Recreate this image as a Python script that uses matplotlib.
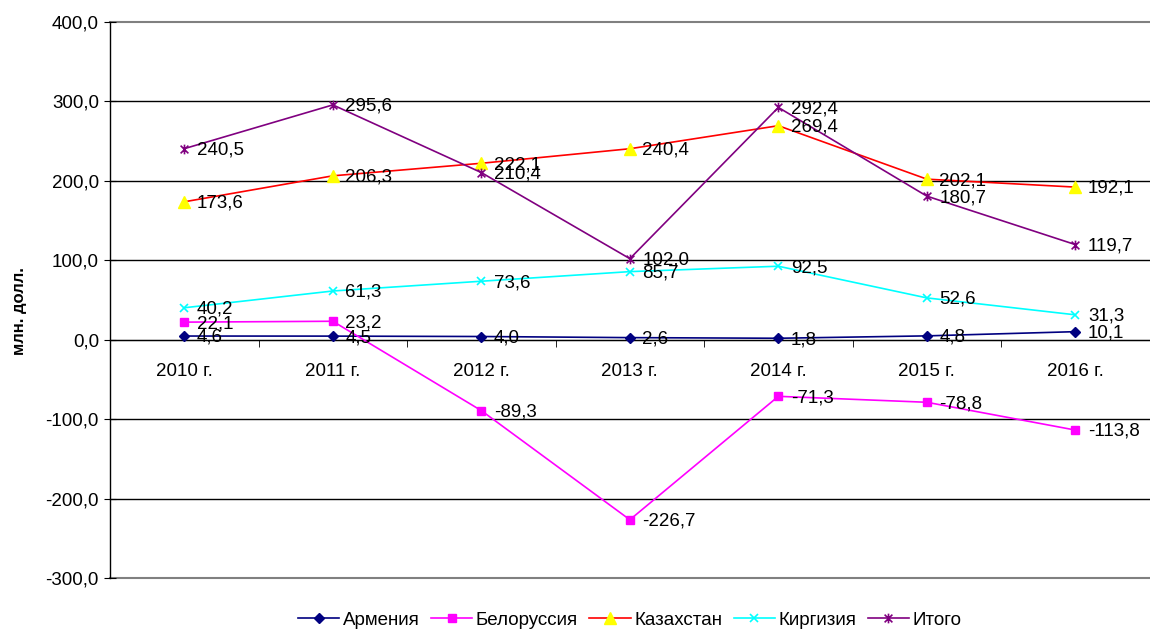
import matplotlib.pyplot as plt
from matplotlib.path import Path
import numpy as np

plt.rcParams['font.family'] = ['Liberation Sans', 'DejaVu Sans']

years = ['2010 г.', '2011 г.', '2012 г.', '2013 г.', '2014 г.', '2015 г.', '2016 г.']
armenia = [4.6, 4.5, 4.0, 2.6, 1.8, 4.8, 10.1]
belarus = [22.1, 23.2, -89.3, -226.7, -71.3, -78.8, -113.8]
kazakhstan = [173.6, 206.3, 222.1, 240.4, 269.4, 202.1, 192.1]
kirgizia = [40.2, 61.3, 73.6, 85.7, 92.5, 52.6, 31.3]
total = [240.5, 295.6, 210.4, 102.0, 292.4, 180.7, 119.7]

# excel-like star: x with a vertical bar
star = Path([(0, -1), (0, 1), (-0.8, -0.8), (0.8, 0.8), (-0.8, 0.8), (0.8, -0.8)],
            [Path.MOVETO, Path.LINETO, Path.MOVETO, Path.LINETO, Path.MOVETO, Path.LINETO])

series = [
    ('Армения', armenia, '#000080', dict(marker='D', ms=5, mfc='#000080', mec='#000080')),
    ('Белоруссия', belarus, '#FF00FF', dict(marker='s', ms=6, mfc='#FF00FF', mec='#FF00FF')),
    ('Казахстан', kazakhstan, '#FF0000', dict(marker='^', ms=8, mfc='#FFFF00', mec='#FFFF00')),
    ('Киргизия', kirgizia, '#00FFFF', dict(marker='x', ms=6, mew=1.2, mec='#00FFFF')),
    ('Итого', total, '#800080', dict(marker=star, ms=7, mew=1.2, mec='#800080')),
]

fig = plt.figure(figsize=(11.5, 6.35), dpi=100)
ax = fig.add_axes([0.0957, 0.0898, 0.904, 0.8756])

x = np.arange(len(years))
ax.set_xlim(-0.5, len(years) - 0.5)
ax.set_ylim(-300, 400)

for v in range(-300, 401, 100):
    edge = v in (-300, 400)
    ax.axhline(v, color='#808080' if edge else 'black', lw=1.5 if edge else 1,
               zorder=1, clip_on=False)

for name, vals, col, mk in series:
    ax.plot(x, vals, color=col, lw=1.2, label=name, zorder=3, **mk)
    for xi, v in zip(x, vals):
        ax.annotate(f'{v:.1f}'.replace('.', ','), (xi, v), xytext=(9, -1),
                    textcoords='offset points', ha='left', va='center',
                    fontsize=13.5, zorder=4)

ax.spines['top'].set_visible(False)
ax.spines['right'].set_visible(False)
ax.spines['bottom'].set_position(('data', 0))
ax.spines['left'].set_linewidth(1)

ax.set_yticks(range(-300, 401, 100))
ax.set_yticklabels([f'{v:.1f}'.replace('.', ',') for v in range(-300, 401, 100)], fontsize=13.5)
ax.tick_params(axis='y', direction='inout', length=8, pad=4)

ax.set_xticks(x)
ax.set_xticklabels(years, fontsize=13.5)
ax.set_xticks(np.arange(-0.5, len(years), 1), minor=True)
ax.tick_params(axis='x', which='major', length=0, pad=17)
ax.tick_params(axis='x', which='minor', direction='out', length=5)

ax.set_ylabel('млн. долл.', fontsize=12, fontweight='bold')
ax.yaxis.set_label_coords(-0.080, 0.48)

ax.legend(loc='upper center', bbox_to_anchor=(0.5, -0.03), ncol=5, frameon=False,
          fontsize=13.5, handlelength=2.2, columnspacing=0.6, handletextpad=0.2)

fig.savefig('out.png', dpi=100)
